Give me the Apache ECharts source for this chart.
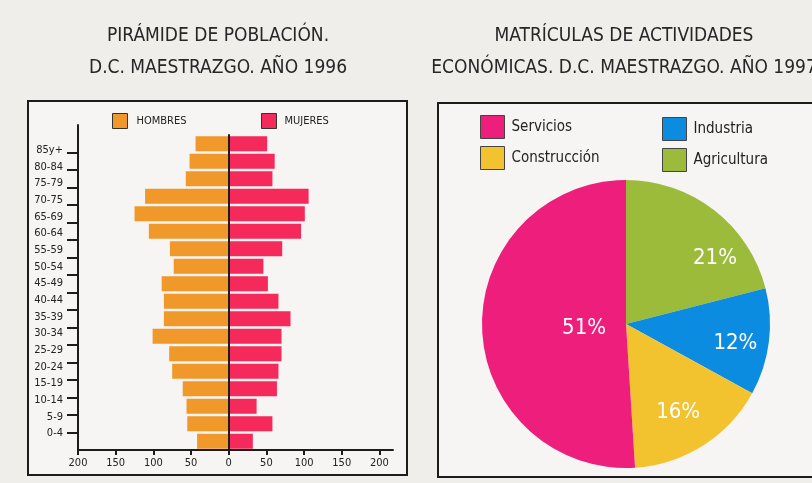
<!DOCTYPE html>
<html><head><meta charset="utf-8">
<script src="https://cdn.jsdelivr.net/npm/echarts@6/dist/echarts.min.js"></script>
<style>html,body{margin:0;padding:0;background:#f0eeeb}#c{width:812px;height:483px}</style>
</head><body><div id="c"></div>
<script>
// ---- data ----
const ageGroups = ['85y+','80-84','75-79','70-75','65-69','60-64','55-59','50-54','45-49','40-44','35-39','30-34','25-29','20-24','15-19','10-14','5-9','0-4'];
const hombres = [44,52,57,111,125,106,78,73,89,86,86,101,79,75,61,56,55,42];
const mujeres = [51,61,58,106,101,96,71,46,52,66,82,70,70,66,64,37,58,32];
const xTickValues = [-200,-150,-100,-50,0,50,100,150,200];
const sectores = ['Agricultura','Industria','Construcción','Servicios'];
const porcentajes = [21,12,16,51];

// ---- styles ----
const F = "'DejaVu Sans Condensed','DejaVu Sans',sans-serif";
const sectorColor = {'Agricultura':'#9dbb3b','Industria':'#0b8ce0','Construcción':'#f3c32f','Servicios':'#ee1f7c'};
const sectorLabelOffset = {'Agricultura':[43,-6],'Industria':[35,10],'Construcción':[12,25],'Servicios':[33,2]};
const ink = '#1c1c1c';
const labelIdx = ageGroups.map((_, i) => i);
const bandBoundaries = ageGroups.slice(1).map((_, i) => i + 1);

const chart = echarts.init(document.getElementById('c'));
const option = {
  backgroundColor: '#f0eeeb',
  animation: false,
  title: [
    {text: 'PIRÁMIDE DE POBLACIÓN.\nD.C. MAESTRAZGO. AÑO 1996', left: 213, top: 15, textAlign: 'center',
     textStyle: {fontFamily: F, fontSize: 19, fontWeight: 'normal', color: '#262626', lineHeight: 32}},
    {text: 'MATRÍCULAS DE ACTIVIDADES\nECONÓMICAS. D.C. MAESTRAZGO. AÑO 1997', left: 619, top: 15, textAlign: 'center',
     textStyle: {fontFamily: F, fontSize: 19, fontWeight: 'normal', color: '#262626', lineHeight: 32}}
  ],
  graphic: [
    {type: 'rect', z: -10, silent: true, shape: {x: 28, y: 101, width: 379, height: 374}, style: {fill: '#f6f5f3', stroke: ink, lineWidth: 2}},
    {type: 'rect', z: -10, silent: true, shape: {x: 438, y: 103, width: 400, height: 374}, style: {fill: '#f6f5f3', stroke: ink, lineWidth: 2}}
  ],
  legend: [
    {data: ['HOMBRES'], left: 107, top: 108, itemWidth: 15, itemHeight: 15, icon: 'rect',
     itemStyle: {borderColor: '#333', borderWidth: 1},
     textStyle: {fontFamily: F, fontSize: 11, color: '#222', padding: [3, 0, 0, 4]}},
    {data: ['MUJERES'], left: 256, top: 108, itemWidth: 15, itemHeight: 15, icon: 'rect',
     itemStyle: {borderColor: '#333', borderWidth: 1},
     textStyle: {fontFamily: F, fontSize: 11, color: '#222', padding: [3, 0, 0, 3]}},
    {data: ['Servicios', 'Construcción'], orient: 'vertical', left: 475, top: 110, itemWidth: 24, itemHeight: 23, itemGap: 7, icon: 'rect',
     itemStyle: {borderColor: '#444', borderWidth: 1},
     textStyle: {fontFamily: F, fontSize: 15, color: '#222', padding: [10, 0, 0, 2]}},
    {data: ['Industria', 'Agricultura'], orient: 'vertical', left: 657, top: 112, itemWidth: 24, itemHeight: 23, itemGap: 7, icon: 'rect',
     itemStyle: {borderColor: '#444', borderWidth: 1},
     textStyle: {fontFamily: F, fontSize: 15, color: '#222', padding: [10, 0, 0, 2]}}
  ],
  grid: [
    {left: 78, top: 135, width: 315, height: 315},
    {left: 78, top: 125, width: 315, height: 325}
  ],
  xAxis: [
    {gridIndex: 0, type: 'value', min: -200, max: 218,
     axisLine: {show: true, onZero: false, lineStyle: {color: ink, width: 2}},
     axisTick: {show: true, customValues: xTickValues, length: 5, lineStyle: {color: ink, width: 2}},
     axisLabel: {customValues: xTickValues, formatter: v => String(Math.abs(v)), fontFamily: F, fontSize: 11, color: '#222', margin: 8},
     splitLine: {show: false}},
    {gridIndex: 1, type: 'value', min: -200, max: 218, show: false}
  ],
  yAxis: [
    {gridIndex: 0, type: 'category', data: ageGroups, inverse: true, z: 5,
     axisLine: {show: true, onZero: true, lineStyle: {color: ink, width: 2}},
     axisTick: {show: false}, axisLabel: {show: false}},
    {gridIndex: 0, type: 'value', min: 0, max: ageGroups.length, position: 'left',
     axisLine: {show: false, onZero: false}, splitLine: {show: false},
     axisTick: {show: true, inside: false, customValues: bandBoundaries, length: 11, lineStyle: {color: ink, width: 2}},
     axisLabel: {show: false}},
    {gridIndex: 1, type: 'value', min: -1, max: 18.5, position: 'left',
     axisLine: {show: true, onZero: false, lineStyle: {color: ink, width: 2}},
     axisTick: {show: false}, splitLine: {show: false},
     axisLabel: {customValues: labelIdx, formatter: v => ageGroups[ageGroups.length - 1 - v] || '',
                 fontFamily: F, fontSize: 11, color: '#222', margin: 15}}
  ],
  series: [
    {name: 'HOMBRES', type: 'bar', xAxisIndex: 0, yAxisIndex: 0, data: hombres.map(v => -v),
     barWidth: 15, barGap: '-100%', itemStyle: {color: '#f0982a'}, silent: true},
    {name: 'MUJERES', type: 'bar', xAxisIndex: 0, yAxisIndex: 0, data: mujeres,
     barWidth: 15, barGap: '-100%', itemStyle: {color: '#f52a5a'}, silent: true},
    {name: 'Actividades', type: 'pie', center: [626, 324], radius: 144, startAngle: 90, clockwise: true,
     silent: true, labelLine: {show: false},
     itemStyle: {borderWidth: 0},
     data: sectores.map((n, i) => ({name: n, value: porcentajes[i], itemStyle: {color: sectorColor[n]},
       label: {offset: sectorLabelOffset[n]}})),
     label: {position: 'inside', formatter: '{c}%', color: '#fff', fontSize: 22, fontFamily: F}}
  ]
};
chart.setOption(option);
</script>
</body></html>
